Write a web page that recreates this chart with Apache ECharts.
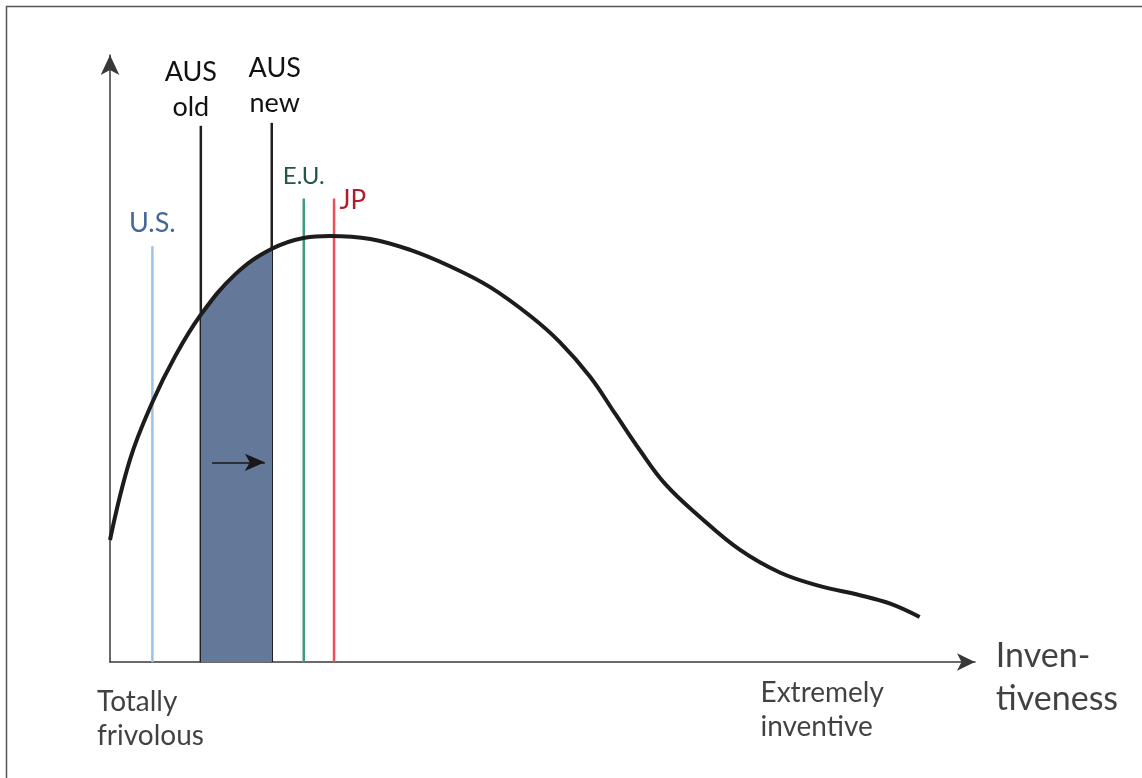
<!DOCTYPE html>
<html>
<head>
<meta charset="utf-8">
<script src="https://cdn.jsdelivr.net/npm/echarts@6/dist/echarts.min.js"></script>
<style>
html,body{margin:0;padding:0;background:#fff;}
#chart{width:1142px;height:778px;}
</style>
</head>
<body>
<div id="chart"></div>
<script>
// Inventiveness curve (x: 0 = totally frivolous .. 100 = extremely inventive)
var curveX = [0.0, 2.3, 4.9, 7.5, 10.5, 14.5, 18.6, 22.5, 25.4, 30.1, 34.7, 39.3, 43.9, 48.6, 52.0, 55.5, 58.4, 61.3, 64.2, 68.2, 72.8, 77.5, 82.1, 86.7, 90.2, 93.6];
var curveY = [20.1, 33.3, 42.8, 50.3, 57.2, 63.9, 68.0, 69.9, 70.2, 69.7, 67.9, 65.2, 61.8, 57.0, 52.7, 47.0, 40.9, 34.8, 29.3, 23.9, 18.5, 14.7, 12.5, 11.0, 9.6, 7.4];

// Country markers
var markerNames = ['U.S.', 'AUS\nold', 'AUS\nnew', 'E.U.', 'JP'];
var markerX = [4.9, 10.5, 18.7, 22.4, 25.9];
var markerTop = [68.5, 88.3, 88.8, 76.3, 76.3];

// Shaded band (AUS old -> AUS new) and the shift arrow
var bandFrom = 10.5, bandTo = 18.7;
var shiftArrowX = [11.8, 17.9];
var shiftArrowY = 32.9;

// Axis end texts
var axisTexts = ['Totally\nfrivolous', 'Extremely\ninventive', 'Inven-\ntiveness'];
var axisTextX = [-1.5, 75.2, 102.4];
var axisTextY = [-3.8, -2.3, 4.6];

var FONT = 'Lato';
var lineColors = ['#9cc3e6', '#231f20', '#231f20', '#3f9a82', '#e8505a'];
var labelColors = ['#44679a', '#111111', '#111111', '#23554a', '#b01c2c'];
var labelSizes = [27, 27, 27, 24, 26];
var labelLineHeights = [35, 35, 35, 30, 30];

var series = [];

// curve with shaded band via visualMap
series.push({
  type: 'line',
  name: 'curve',
  data: curveX.map(function (x, i) { return [x, curveY[i]]; }),
  smooth: 0.4,
  symbol: 'none',
  lineStyle: { color: '#1e1b1c', width: 4 },
  areaStyle: { opacity: 1 },
  z: 10,
  silent: true,
  markLine: {
    silent: true,
    z: 30,
    symbol: ['none', 'arrow'],
    symbolSize: [13, 20],
    label: { show: false },
    emphasis: { disabled: true },
    lineStyle: { color: '#1a1718', width: 1.5, type: 'solid' },
    data: [[{ coord: [shiftArrowX[0], shiftArrowY] }, { coord: [shiftArrowX[1], shiftArrowY] }]]
  }
});

var labelOpts = [
  { position: 'top', distance: 5, offset: [0, 0] },
  { position: 'top', distance: 1, offset: [-10, 0] },
  { position: 'top', distance: 2, offset: [3, 0] },
  { position: 'top', distance: 7, offset: [0, 0] },
  { position: 'right', distance: 5, offset: [0, 2] }
];

markerNames.forEach(function (name, i) {
  var lo = labelOpts[i];
  series.push({
    type: 'line',
    name: name,
    data: [[markerX[i], 0], {
      value: [markerX[i], markerTop[i]],
      symbolSize: 1,
      label: {
        show: true,
        formatter: name,
        position: lo.position,
        distance: lo.distance,
        offset: lo.offset,
        color: labelColors[i],
        fontFamily: FONT,
        fontSize: labelSizes[i],
        lineHeight: labelLineHeights[i],
        align: lo.position === 'right' ? 'left' : 'center'
      }
    }],
    symbol: 'circle',
    symbolSize: 1,
    showSymbol: true,
    lineStyle: { color: lineColors[i], width: 2.5 },
    itemStyle: { color: lineColors[i] },
    z: 5,
    silent: true
  });
});

// text annotations
series.push({
  type: 'scatter',
  name: 'texts',
  clip: false,
  symbolSize: 0,
  silent: true,
  data: axisTexts.map(function (t, i) {
    return {
      value: [axisTextX[i], axisTextY[i]],
      label: {
        show: true,
        formatter: t,
        position: 'inside',
        align: 'left',
        verticalAlign: 'top',
        color: '#111111',
        fontFamily: FONT,
        fontSize: i === 2 ? 34 : 28,
        lineHeight: i === 2 ? 43 : 34
      }
    };
  })
});

var chart = echarts.init(document.getElementById('chart'), null, { renderer: 'canvas' });
chart.setOption({
  animation: false,
  backgroundColor: '#ffffff',
  grid: { left: 110, right: 167, top: 55, bottom: 116, show: false },
  xAxis: {
    type: 'value', min: 0, max: 100,
    axisLine: { show: true, lineStyle: { color: '#3a3738', width: 1.5 }, symbol: ['none', 'arrow'], symbolSize: [13, 18], symbolOffset: [0, 0] },
    axisTick: { show: false }, axisLabel: { show: false }, splitLine: { show: false }
  },
  yAxis: {
    type: 'value', min: 0, max: 100,
    axisLine: { show: true, lineStyle: { color: '#3a3738', width: 1.5 }, symbol: ['none', 'arrow'], symbolSize: [14, 20], symbolOffset: [0, 0] },
    axisTick: { show: false }, axisLabel: { show: false }, splitLine: { show: false }
  },
  visualMap: {
    type: 'piecewise', show: false, dimension: 0, seriesIndex: 0,
    pieces: [{ gte: bandFrom, lte: bandTo, color: '#64799a' }],
    outOfRange: { color: 'rgba(255,255,255,0)' }
  },
  graphic: [{
    type: 'rect', silent: true, z: -1,
    shape: { x: 6.5, y: 6.5, width: 1300, height: 900 },
    style: { fill: 'none', stroke: '#555555', lineWidth: 1.5 }
  }],
  series: series
});
</script>
</body>
</html>
